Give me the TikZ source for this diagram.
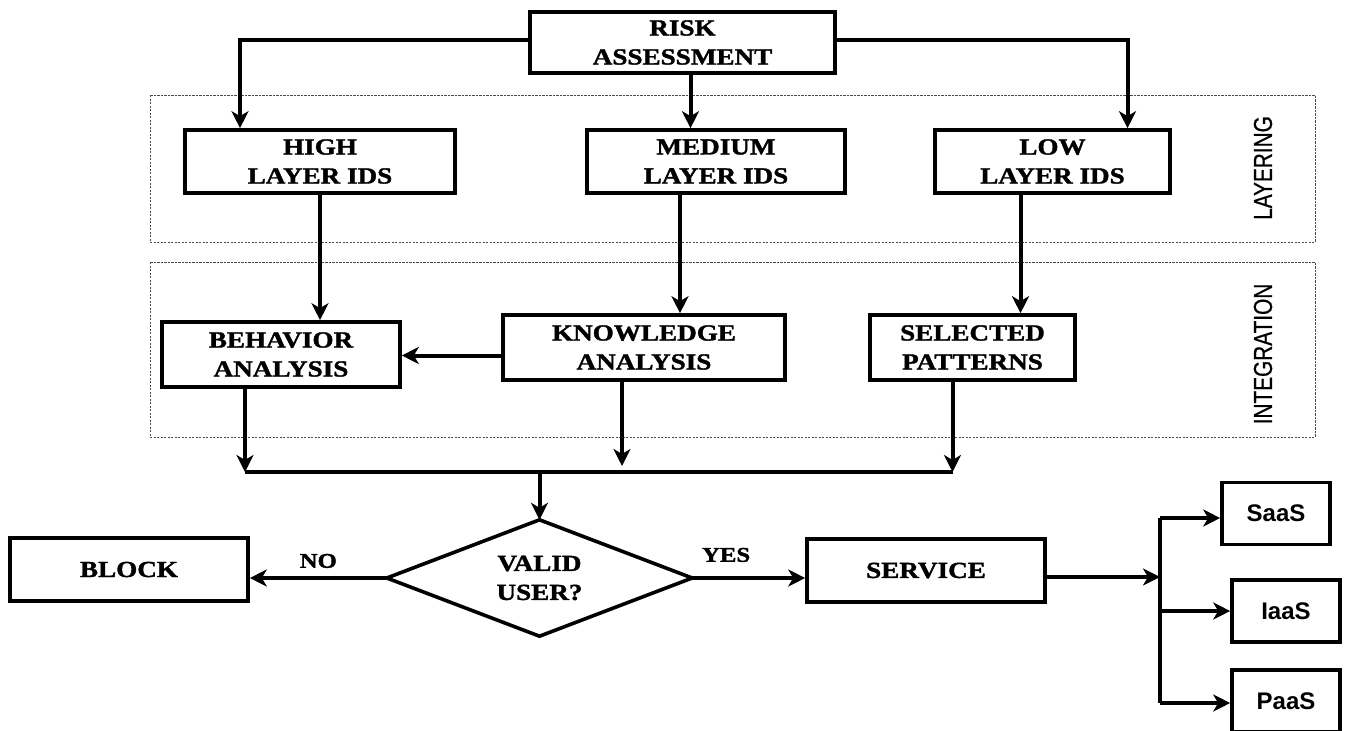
\documentclass[tikz,border=0pt]{standalone}
\usepackage{fontspec}
\setmainfont{Liberation Serif}
\newfontfamily\boxfont[FakeStretch=1.18,FakeBold=1.5]{Liberation Serif}
\newfontfamily\sansfont{Liberation Sans}
\newfontfamily\zonefont[FakeStretch=0.8,FakeBold=0.6]{Liberation Sans}
\usetikzlibrary{arrows.meta,shapes.geometric}
\begin{document}
\begin{tikzpicture}[x=1pt,y=-1pt,
  box/.style={draw,line width=3.6pt,align=center,inner sep=0pt,
    font=\boxfont\bfseries\fontsize{23}{29}\selectfont},
  cloud/.style={draw,line width=3.6pt,align=center,inner sep=0pt,
    font=\sansfont\bfseries\fontsize{24}{28}\selectfont,
    minimum width=108pt,minimum height=62pt},
  arr/.style={line width=4pt,-{Stealth[length=17pt,width=17pt,inset=5pt]}},
  ln/.style={line width=4pt},
  zone/.style={draw=black!70,line width=1pt,dash pattern=on 2.2pt off 1.3pt},
  zonelabel/.style={rotate=90,font=\zonefont\fontsize{26}{28}\selectfont,inner sep=0pt},
  edgelabel/.style={font=\boxfont\bfseries\fontsize{21}{24}\selectfont,inner sep=0pt}
]
\useasboundingbox (0,0) rectangle (1345,731);
\fill[white] (0,0) rectangle (1345,731);

% zones
\draw[zone] (150,95) rectangle (1315,242);
\draw[zone] (150,262) rectangle (1315,437);
\node[zonelabel] (lay) at (1263,168) {LAYERING};
\node[zonelabel] (int) at (1263,354) {INTEGRATION};

% boxes
\node[box,minimum width=305pt,minimum height=61pt] (risk) at (682.5,42.5) {RISK\\ASSESSMENT};
\node[box,minimum width=270pt,minimum height=63pt] (high) at (320,161.5) {HIGH\\LAYER IDS};
\node[box,minimum width=258pt,minimum height=63pt] (med) at (716,161.5) {MEDIUM\\LAYER IDS};
\node[box,minimum width=235pt,minimum height=63pt] (low) at (1052.5,161.5) {LOW\\LAYER IDS};
\node[box,minimum width=238pt,minimum height=65pt] (beh) at (281,354.5) {BEHAVIOR\\ANALYSIS};
\node[box,minimum width=282pt,minimum height=65pt] (know) at (644,347.5) {KNOWLEDGE\\ANALYSIS};
\node[box,minimum width=205pt,minimum height=65pt] (sel) at (972.5,347.5) {SELECTED\\PATTERNS};
\node[box,minimum width=238pt,minimum height=63pt] (block) at (129,569.5) {BLOCK};
\node[draw=none,shape=diamond,inner sep=0pt,minimum width=305pt,minimum height=116pt] (valid) at (539.5,578) {};
\draw[line width=3.6pt,line join=miter] (valid.north) -- (valid.east) -- (valid.south) -- (valid.west) -- cycle;
\node[font=\boxfont\bfseries\fontsize{23}{29}\selectfont,align=center,inner sep=0pt] (validtext) at (valid.center) {VALID\\USER?};
\node[box,minimum width=238pt,minimum height=63pt] (serv) at (926,570.5) {SERVICE};
\node[cloud] (saas) at (1276,513.5) {SaaS};
\node[cloud] (iaas) at (1286,611) {IaaS};
\node[cloud] (paas) at (1286,701) {PaaS};

% top connectors
\draw[arr] ([yshift=3pt]risk.west) -| ([xshift=-80pt]high.north);
\draw[arr] ([yshift=3pt]risk.east) -| ([xshift=75pt]low.north);
\draw[arr] ([xshift=8pt]risk.south) -- ([xshift=8pt]risk.south |- med.north);

% layer to integration
\draw[arr] (high.south) -- (high.south |- beh.north);
\draw[arr] ([xshift=-36pt]med.south) -- ([xshift=-36pt]med.south |- know.north);
\draw[arr] ([xshift=-32pt]low.south) -- ([xshift=-32pt]low.south |- sel.north);
\draw[arr] ([yshift=-8pt]know.west) -- ([yshift=-8pt]know.west -| beh.east);

% merge
\coordinate (mL) at ([xshift=-36pt]beh.south |- 0,472);
\coordinate (mR) at ([xshift=-20pt]sel.south |- 0,472);
\coordinate (mK) at ([xshift=-22pt]know.south |- 0,466);
\draw[arr] ([xshift=-36pt]beh.south) -- (mL);
\draw[arr] ([xshift=-22pt]know.south) -- (mK);
\draw[arr] ([xshift=-20pt]sel.south) -- (mR);
\draw[ln] (mL) -- (mR);
\coordinate (mC) at (valid.north |- mL);
\draw[arr] (mC) -- (valid.north);

% decision
\draw[arr] (valid.west) -- (valid.west -| block.east) node[edgelabel,midway,above=8pt] (no) {NO};
\draw[arr] (valid.east) -- (valid.east -| serv.west) node[edgelabel,pos=0.3,above=14pt] (yes) {YES};

% services
\coordinate (bus) at (1160,577);
\coordinate (busT) at (1160,518);
\coordinate (busB) at (1160,703);
\draw[arr] (serv.east |- bus) -- (bus);
\draw[ln] (busT) -- (busB);
\draw[arr] (busT) -- (busT -| saas.west);
\draw[arr] (1160,611) -- (iaas.west);
\draw[arr] (busB) -- (busB -| paas.west);
\end{tikzpicture}
\end{document}
